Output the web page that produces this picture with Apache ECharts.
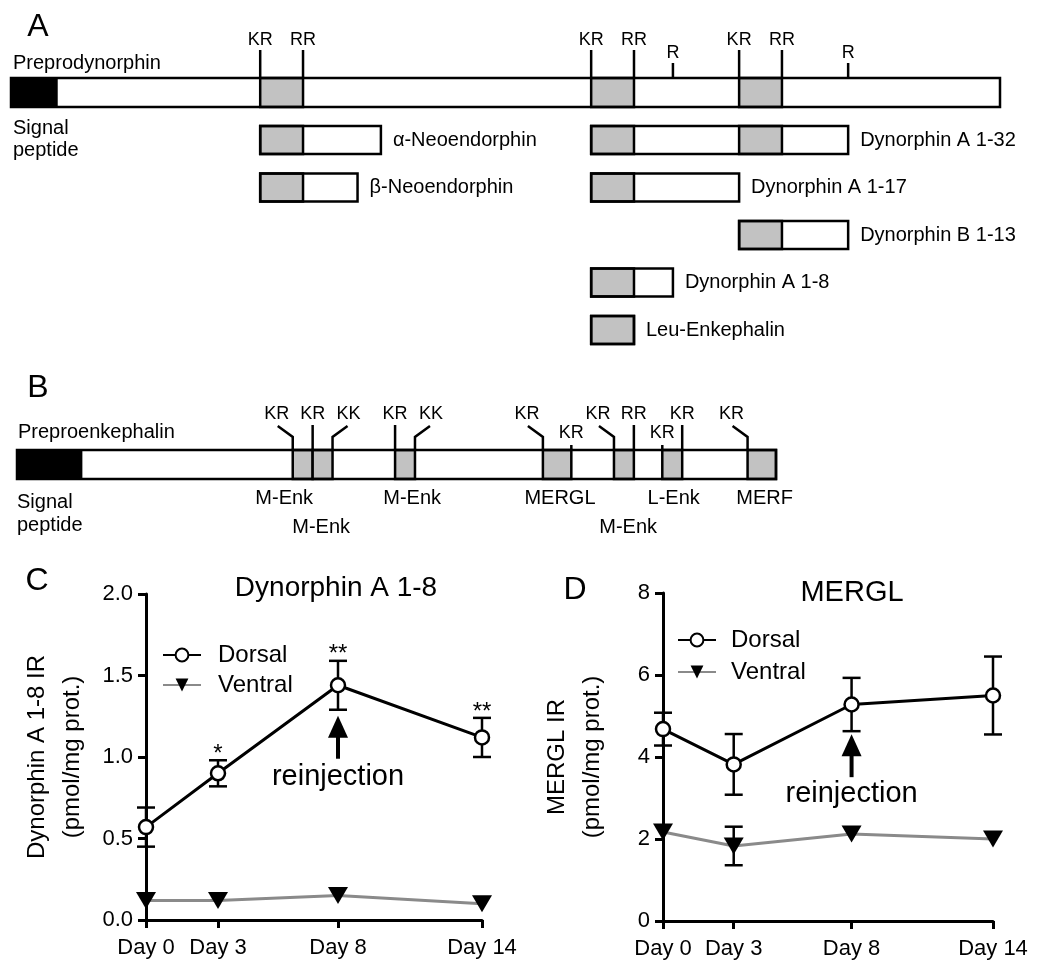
<!DOCTYPE html>
<html><head><meta charset="utf-8">
<script src="https://cdn.jsdelivr.net/npm/echarts@6/dist/echarts.min.js"></script>
<style>html,body{margin:0;padding:0;background:#fff}#c{width:1050px;height:977px}</style>
</head><body><div id="c"></div>
<script>
// ---------- Panel A: preprodynorphin (residue-like units) ----------
const dynLength = 254;
const dynSignalEnd = 12;
const dynCores = [[64,75],[149,160],[187,198]];
const dynSitePos = [64,75,149,160,170,187,198,215];
const dynSiteLabels = ['KR','RR','KR','RR','R','KR','RR','R'];
const dynSiteTall = [1,1,1,1,0,1,1,0];
const dynProductNames = ['α-Neoendorphin','β-Neoendorphin','Dynorphin A 1-32','Dynorphin A 1-17','Dynorphin B 1-13','Dynorphin A 1-8','Leu-Enkephalin'];
const dynProductStart = [64,64,149,149,187,149,149];
const dynProductEnd = [95,89,215,187,215,170,160];
const dynProductRow = [1,2,1,2,3,4,5];

// ---------- Panel B: preproenkephalin ----------
const penkLength = 267;
const penkSignalEnd = 23;
const penkCores = [[97,104],[104,111],[133,140],[185,195],[210,217],[227,234],[257,267]];
const penkSitePos = [97,104,111,133,140,185,195,210,217,227,234,257];
const penkSiteLabels = ['KR','KR','KK','KR','KK','KR','KR','KR','RR','KR','KR','KR'];
const penkSiteStyle = ['left','up','right','up','right','left','low','left','up','low','up','left'];
const penkPeptideNames = ['M-Enk','M-Enk','M-Enk','MERGL','M-Enk','L-Enk','MERF'];
const penkPeptideCenter = [94,107,139,191,215,231,263];
const penkPeptideRow = [0,1,0,0,1,0,0];

// ---------- Panels C, D ----------
const days = [0,3,8,14];
const dayLabels = ['Day 0','Day 3','Day 8','Day 14'];
const dynA18Dorsal = [0.57,0.90,1.44,1.12];
const dynA18DorsalSem = [0.12,0.08,0.15,0.12];
const dynA18Ventral = [0.12,0.12,0.15,0.10];
const dynA18VentralSem = [0,0,0,0];
const dynA18Stars = ['','*','**','**'];
const merglDorsal = [4.68,3.82,5.28,5.50];
const merglDorsalSem = [0.40,0.74,0.65,0.95];
const merglVentral = [2.17,1.83,2.12,2.00];
const merglVentralSem = [0,0.47,0,0];
const reinjectionDay = 8;

const FONT = '"Liberation Sans", Arial, Helvetica, sans-serif';
const BAR_H = 0.61;

function txt(text, x, y, size, align, valign) {
  return {type:'text', style:{text, x, y, fontSize:size, fontFamily:FONT, fill:'#000', align:align||'center', verticalAlign:valign||'middle'}};
}
function line(x1,y1,x2,y2,w){ return {type:'line', shape:{x1,y1,x2,y2}, style:{stroke:'#000', lineWidth:w||2.5}}; }

function protein(api, start, end, row, hUnits, cores, signalEnd) {
  const p0 = api.coord([start,row]), p1 = api.coord([end,row]);
  const h = Math.abs(api.size([0,hUnits])[1]);
  const y = p0[1]-h/2;
  const ch = [];
  ch.push({type:'rect', shape:{x:p0[0], y, width:p1[0]-p0[0], height:h}, style:{fill:'#fff', stroke:null}});
  if (signalEnd) {
    const ps = api.coord([signalEnd,row]);
    ch.push({type:'rect', shape:{x:p0[0], y, width:ps[0]-p0[0], height:h}, style:{fill:'#000'}});
  }
  cores.forEach(c => {
    if (c[0] >= start && c[1] <= end) {
      const a = api.coord([c[0],row]), b = api.coord([c[1],row]);
      ch.push({type:'rect', shape:{x:a[0], y, width:b[0]-a[0], height:h}, style:{fill:'#c2c2c2', stroke:'#000', lineWidth:2.5}});
    }
  });
  ch.push({type:'rect', shape:{x:p0[0], y, width:p1[0]-p0[0], height:h}, style:{fill:'none', stroke:'#000', lineWidth:2.5}});
  return {children:ch, right:p1[0], cy:p0[1], top:y, bottom:y+h};
}

const dayAxis = (grid) => ({
  gridIndex:grid, type:'value', min:0, max:14,
  axisLine:{show:true, onZero:false, lineStyle:{color:'#000', width:3}},
  axisTick:{show:true, customValues:days, length:8, lineStyle:{color:'#000', width:3}},
  axisLabel:{customValues:days, formatter:v => dayLabels[days.indexOf(v)], fontSize:22, fontFamily:FONT, color:'#000', margin:17},
  splitLine:{show:false}
});
const valAxis = (grid, max, interval, dec, name, gap) => ({
  gridIndex:grid, type:'value', min:0, max, interval,
  name, nameLocation:'middle', nameGap:gap, nameRotate:90,
  nameTextStyle:{fontSize:24, lineHeight:35, fontFamily:FONT, color:'#000'},
  axisLine:{show:true, lineStyle:{color:'#000', width:3}},
  axisTick:{show:true, length:8, lineStyle:{color:'#000', width:3}},
  axisLabel:{formatter:v => v.toFixed(dec), fontSize:22, fontFamily:FONT, color:'#000', margin:13},
  splitLine:{show:false}
});

function errSeries(name, xi, means, sems) {
  return {
    name, type:'custom', xAxisIndex:xi, yAxisIndex:xi, z:2, clip:false, silent:true,
    data: days.map((d,i) => [d, means[i], sems[i]]),
    renderItem:(params, api) => {
      const x = api.value(0), m = api.value(1), s = api.value(2);
      if (!s) return {type:'group', children:[]};
      const t = api.coord([x, m+s]), b = api.coord([x, m-s]);
      const cw = 9;
      return {type:'group', children:[
        line(t[0],t[1],b[0],b[1]), line(t[0]-cw,t[1],t[0]+cw,t[1]), line(b[0]-cw,b[1],b[0]+cw,b[1])
      ]};
    }
  };
}
function dorsalSeries(xi, vals) {
  return {name:'Dorsal', type:'line', xAxisIndex:xi, yAxisIndex:xi, z:4, clip:false,
    data: days.map((d,i)=>[d, vals[i]]), symbol:'circle', symbolSize:14,
    lineStyle:{color:'#000', width:3}, itemStyle:{color:'#fff', borderColor:'#000', borderWidth:2.5}};
}
function ventralSeries(xi, vals) {
  return {name:'Ventral', type:'line', xAxisIndex:xi, yAxisIndex:xi, z:3, clip:false,
    data: days.map((d,i)=>[d, vals[i]]), symbol:'triangle', symbolRotate:180, symbolSize:[20,17],
    lineStyle:{color:'#8a8a8a', width:3}, itemStyle:{color:'#000'}};
}
function annotSeries(xi, means, sems, stars, arrowGap, textGap) {
  const k = days.indexOf(reinjectionDay);
  return {
    type:'custom', xAxisIndex:xi, yAxisIndex:xi, z:5, clip:false, silent:true,
    data: days.map((d,i)=>[d, means[i]+sems[i], means[i]-sems[i]]),
    renderItem:(params, api) => {
      const i = params.dataIndex;
      const t = api.coord([api.value(0), api.value(1)]);
      const b = api.coord([api.value(0), api.value(2)]);
      const ch = [];
      if (stars && stars[i]) ch.push(txt(stars[i], t[0], t[1]-6, 24));
      if (i === k) {
        const tip = b[1] + arrowGap, len = 43, hw = 10, hl = 22;
        ch.push({type:'polygon', shape:{points:[[b[0],tip],[b[0]-hw,tip+hl],[b[0]+hw,tip+hl]]}, style:{fill:'#000'}});
        ch.push(line(b[0], tip+hl-2, b[0], tip+len, 4));
        ch.push(txt('reinjection', b[0], tip+textGap, 29));
      }
      return {type:'group', children:ch};
    }
  };
}

const option = {
  animation:false,
  backgroundColor:'#fff',
  grid:[
    {left:11, top:68.75, width:989, height:285},
    {left:17, top:450, width:759, height:29},
    {left:146, top:594, width:336, height:326},
    {left:663, top:593, width:330, height:328}
  ],
  xAxis:[
    {gridIndex:0, type:'value', min:0, max:dynLength, show:false},
    {gridIndex:1, type:'value', min:0, max:penkLength, show:false},
    dayAxis(2), dayAxis(3)
  ],
  yAxis:[
    {gridIndex:0, type:'value', min:-0.5, max:5.5, inverse:true, show:false},
    {gridIndex:1, type:'value', min:-0.5, max:0.5, show:false},
    valAxis(2, 2, 0.5, 1, 'Dynorphin A 1-8 IR\n(pmol/mg prot.)', 56),
    valAxis(3, 8, 2, 0, 'MERGL IR\n(pmol/mg prot.)', 53)
  ],
  legend:[
    {data:['Dorsal','Ventral'], orient:'vertical', left:157, top:638, itemWidth:38, itemHeight:16, itemGap:6,
     textStyle:{fontSize:24, lineHeight:24, fontFamily:FONT, color:'#000', padding:[0,0,0,12]}, selectedMode:false},
    {data:['Dorsal','Ventral'], orient:'vertical', left:672, top:623, itemWidth:38, itemHeight:16, itemGap:8,
     textStyle:{fontSize:24, lineHeight:24, fontFamily:FONT, color:'#000', padding:[0,0,0,10]}, selectedMode:false}
  ],
  graphic:[
    txt('A', 38, 27, 32), txt('B', 38, 388, 32), txt('C', 37, 581, 32), txt('D', 575, 590, 32),
    txt('Preprodynorphin', 13, 63, 20, 'left'),
    txt('Signal', 13, 128, 20, 'left'), txt('peptide', 13, 150, 20, 'left'),
    txt('Preproenkephalin', 18, 432, 20, 'left'),
    txt('Signal', 17, 502, 20, 'left'), txt('peptide', 17, 525, 20, 'left'),
    txt('Dynorphin A 1-8', 336, 588, 28), txt('MERGL', 852, 593, 29)
  ].map(g => Object.assign(g, {silent:true})),
  series:[
    {type:'custom', xAxisIndex:0, yAxisIndex:0, clip:false, silent:true,
     data:[[0, dynLength, 0]],
     renderItem:(params, api) => ({type:'group', children: protein(api, api.value(0), api.value(1), api.value(2), BAR_H, dynCores, dynSignalEnd).children})},
    {type:'custom', xAxisIndex:0, yAxisIndex:0, clip:false, silent:true,
     data: dynSitePos.map(p => [p, 0]),
     renderItem:(params, api) => {
       const i = params.dataIndex;
       const p = api.coord([api.value(0), 0]);
       const h = Math.abs(api.size([0, BAR_H])[1]);
       const top = p[1] - h/2;
       const len = dynSiteTall[i] ? 28 : 15;
       return {type:'group', children:[ line(p[0], top, p[0], top-len), txt(dynSiteLabels[i], p[0], top-len-10, 18) ]};
     }},
    {type:'custom', xAxisIndex:0, yAxisIndex:0, clip:false, silent:true,
     data: dynProductNames.map((n,i) => [dynProductStart[i], dynProductEnd[i], dynProductRow[i]]),
     renderItem:(params, api) => {
       const i = params.dataIndex;
       const pr = protein(api, api.value(0), api.value(1), api.value(2), BAR_H-0.02, dynCores, 0);
       pr.children.push(txt(dynProductNames[i], pr.right + 12, pr.cy, 20, 'left'));
       return {type:'group', children: pr.children};
     }},
    {type:'custom', xAxisIndex:1, yAxisIndex:1, clip:false, silent:true,
     data:[[0, penkLength, 0]],
     renderItem:(params, api) => ({type:'group', children: protein(api, api.value(0), api.value(1), api.value(2), 1, penkCores, penkSignalEnd).children})},
    {type:'custom', xAxisIndex:1, yAxisIndex:1, clip:false, silent:true,
     data: penkSitePos.map(p => [p, 0]),
     renderItem:(params, api) => {
       const i = params.dataIndex;
       const p = api.coord([api.value(0), 0]);
       const h = Math.abs(api.size([0, 1])[1]);
       const top = p[1] - h/2, x = p[0];
       const st = penkSiteStyle[i], lab = penkSiteLabels[i];
       const ch = [];
       if (st === 'up') { ch.push(line(x, top, x, top-25)); ch.push(txt(lab, x, top-36, 18)); }
       else if (st === 'low') { ch.push(line(x, top, x, top-5)); ch.push(txt(lab, x, top-17, 18)); }
       else {
         const d = st === 'left' ? -1 : 1;
         ch.push({type:'polyline', shape:{points:[[x, top],[x, top-13],[x+d*15, top-24]]}, style:{stroke:'#000', lineWidth:2.5, fill:null}});
         ch.push(txt(lab, x+d*16, top-36, 18));
       }
       return {type:'group', children: ch};
     }},
    {type:'custom', xAxisIndex:1, yAxisIndex:1, clip:false, silent:true,
     data: penkPeptideCenter.map((c,i) => [c, penkPeptideRow[i]]),
     renderItem:(params, api) => {
       const i = params.dataIndex;
       const p = api.coord([api.value(0), 0]);
       const h = Math.abs(api.size([0, 1])[1]);
       const bottom = p[1] + h/2;
       return txt(penkPeptideNames[i], p[0], bottom + 19 + api.value(1)*29, 20);
     }},
    errSeries('errCd', 2, dynA18Dorsal, dynA18DorsalSem),
    errSeries('errCv', 2, dynA18Ventral, dynA18VentralSem),
    ventralSeries(2, dynA18Ventral),
    dorsalSeries(2, dynA18Dorsal),
    annotSeries(2, dynA18Dorsal, dynA18DorsalSem, dynA18Stars, 6, 61),
    errSeries('errDd', 3, merglDorsal, merglDorsalSem),
    errSeries('errDv', 3, merglVentral, merglVentralSem),
    ventralSeries(3, merglVentral),
    dorsalSeries(3, merglDorsal),
    annotSeries(3, merglDorsal, merglDorsalSem, null, 3, 60)
  ]
};
const chart = echarts.init(document.getElementById('c'), null, {renderer:'canvas'});
chart.setOption(option);
</script>
</body></html>
